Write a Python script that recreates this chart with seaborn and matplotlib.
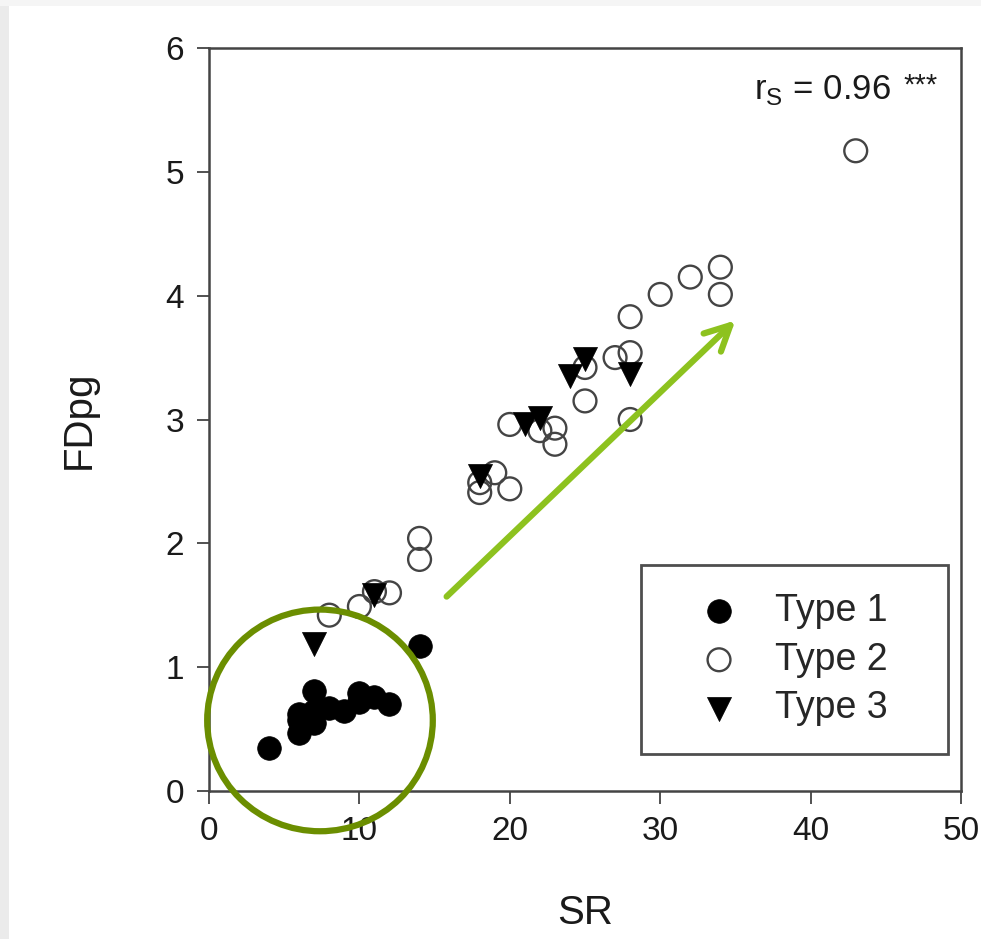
import numpy as np
import pandas as pd
import matplotlib
matplotlib.use("Agg")
import matplotlib.pyplot as plt
import seaborn as sns
from matplotlib.patches import Ellipse, Rectangle

# ---- data ----
t1_sr = [4, 6, 6, 6, 7, 7, 7, 8, 9, 10, 10, 11, 12, 14]
t1_fd = [0.35, 0.47, 0.57, 0.62, 0.55, 0.65, 0.81, 0.67, 0.65, 0.72, 0.79, 0.76, 0.70, 1.17]

t2_sr = [8, 10, 11, 12, 14, 14, 18, 18, 19, 20, 20, 22, 23, 23, 25, 25, 27, 28, 28, 28, 30, 32, 34, 34, 43]
t2_fd = [1.42, 1.49, 1.61, 1.60, 2.04, 1.87, 2.41, 2.49, 2.57, 2.96, 2.44, 2.91, 2.93, 2.80, 3.42, 3.15,
         3.50, 3.54, 3.83, 3.00, 4.01, 4.15, 4.23, 4.01, 5.17]

t3_sr = [7, 11, 18, 21, 22, 24, 25, 28]
t3_fd = [1.19, 1.58, 2.54, 2.96, 3.01, 3.35, 3.49, 3.37]

x_ticks = [0, 10, 20, 30, 40, 50]
y_ticks = [0, 1, 2, 3, 4, 5, 6]

sns.set_theme(style="white")
plt.rcParams['font.family'] = ['Liberation Sans', 'DejaVu Sans']
plt.rcParams['mathtext.fontset'] = 'custom'
plt.rcParams['mathtext.rm'] = 'Liberation Sans'

fig = plt.figure(figsize=(9.81, 9.39), dpi=100)
# light grey page edges of the original screenshot
fig.patches.append(Rectangle((0, 0), 9/981, 1, transform=fig.transFigure,
                             facecolor='#ebebeb', edgecolor='none', zorder=0))
fig.patches.append(Rectangle((0, 1 - 6/939), 1, 6/939, transform=fig.transFigure,
                             facecolor='#f5f5f5', edgecolor='none', zorder=0))

ax = fig.add_axes([209/981, 1 - 791/939, 752/981, 743/939])

sns.scatterplot(x=t1_sr, y=t1_fd, ax=ax, marker='o', s=290, color='black',
                edgecolor='black', linewidth=0.5, label='Type 1', zorder=3)
sns.scatterplot(x=t2_sr, y=t2_fd, ax=ax, marker='o', s=270, facecolors='none',
                edgecolor='#444444', linewidth=1.7, label='Type 2', zorder=3)
sns.scatterplot(x=t3_sr, y=t3_fd, ax=ax, marker='v', s=300, color='black',
                edgecolor='black', linewidth=0.5, label='Type 3', zorder=4)

ax.set_xlim(0, 50)
ax.set_ylim(0, 6)
ax.set_xticks(x_ticks)
ax.set_yticks(y_ticks)
ax.tick_params(axis='both', direction='out', length=9, width=1.2, color='#333333',
               labelsize=24, labelcolor='#1a1a1a', pad=9, bottom=True, left=True)
for sp in ax.spines.values():
    sp.set_color('#444444')
    sp.set_linewidth(1.8)

ax.set_xlabel('SR', fontsize=29, color='#1a1a1a', labelpad=34)
ax.set_ylabel('FDpg', fontsize=29, color='#1a1a1a', labelpad=49)

ax.text(0.906, 0.967, r'r$_\mathregular{S}$ = 0.96', transform=ax.transAxes,
        ha='right', va='top', fontsize=25, color='#1a1a1a')
ax.text(0.924, 0.968, '***', transform=ax.transAxes,
        ha='left', va='top', fontsize=21, color='#1a1a1a')

leg = ax.legend(loc='upper left', bbox_to_anchor=(0.574, 0.0, 0.409, 0.304), mode='expand',
                fontsize=27, frameon=True, fancybox=False, edgecolor='#222222',
                borderpad=0.74, handletextpad=0.13, labelspacing=0.34, borderaxespad=0,
                markerscale=1.0, handlelength=2.7)
leg.get_frame().set_linewidth(2.0)
leg.get_frame().set_boxstyle('square', pad=0.0)

# annotation: green circle & arrow
ell = Ellipse((7.38, 0.57), width=15.0, height=1.79, fill=False, edgecolor='#6b8e00',
              linewidth=4.5, clip_on=False, zorder=5)
ax.add_patch(ell)
ax.annotate('', xy=(35.0, 3.8), xytext=(15.8, 1.57),
            arrowprops=dict(arrowstyle='->,head_length=1.5,head_width=0.75', color='#8dc21f',
                            lw=4.5, shrinkA=0, shrinkB=0, capstyle='round'), zorder=5)

fig.savefig('out.png', dpi=100, facecolor='white')
